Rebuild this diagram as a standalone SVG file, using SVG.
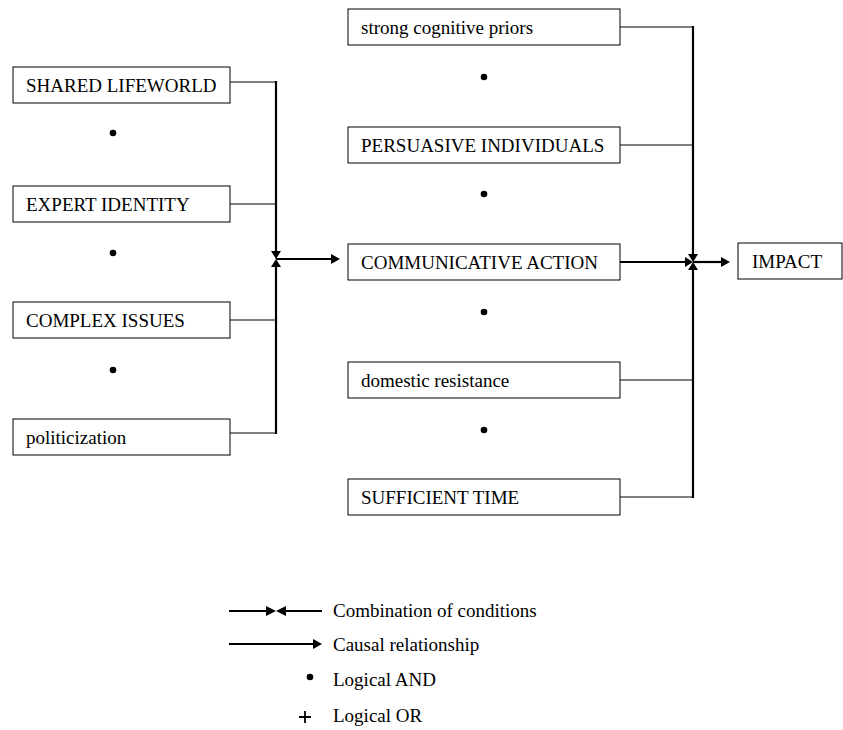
<svg xmlns="http://www.w3.org/2000/svg" width="843" height="730" viewBox="0 0 843 730">
<style>
.box{fill:#fff;stroke:#000;stroke-width:1}
text{font-family:"Liberation Serif","Times New Roman",serif;font-size:19px;fill:#000}
.thin{stroke:#000;stroke-width:1;fill:none}
.thick{stroke:#000;stroke-width:2.2;fill:none}
.head{fill:#000}
</style>
<rect width="843" height="730" fill="#fff"/>
<g id="n-shared"><rect class="box" x="13" y="67" width="217" height="36"/><text x="26" y="92">SHARED LIFEWORLD</text></g>
<g id="n-expert"><rect class="box" x="13" y="186" width="217" height="36"/><text x="26" y="211">EXPERT IDENTITY</text></g>
<g id="n-complex"><rect class="box" x="13" y="302" width="217" height="36"/><text x="26" y="327">COMPLEX ISSUES</text></g>
<g id="n-polit"><rect class="box" x="13" y="419" width="217" height="36"/><text x="26" y="444">politicization</text></g>
<g id="n-priors"><rect class="box" x="348" y="9" width="272" height="36"/><text x="361" y="34">strong cognitive priors</text></g>
<g id="n-persuasive"><rect class="box" x="348" y="127" width="272" height="36"/><text x="361" y="152">PERSUASIVE INDIVIDUALS</text></g>
<g id="n-comm"><rect class="box" x="348" y="244" width="272" height="36"/><text x="361" y="269">COMMUNICATIVE ACTION</text></g>
<g id="n-domestic"><rect class="box" x="348" y="362" width="272" height="36"/><text x="361" y="387">domestic resistance</text></g>
<g id="n-time"><rect class="box" x="348" y="479" width="272" height="36"/><text x="361" y="504">SUFFICIENT TIME</text></g>
<g id="n-impact"><rect class="box" x="738" y="243" width="104" height="36"/><text x="752" y="268">IMPACT</text></g>
<g id="and-dots">
<circle cx="113" cy="133" r="3.3"/><circle cx="113" cy="253" r="3.3"/><circle cx="113" cy="370" r="3.3"/>
<circle cx="484" cy="77" r="3.3"/><circle cx="484" cy="194" r="3.3"/><circle cx="484" cy="312" r="3.3"/><circle cx="484" cy="430" r="3.3"/>
</g>
<g id="connectors">
<path class="thin" d="M230 82H276M230 204H276M230 320H276M230 433H276"/>
<path class="thick" d="M276 81V251M276 267V434"/>
<path class="head" d="M271 251L281 251L276 259ZM271 267L281 267L276 259Z"/>
<path class="thick" d="M276 259H332"/>
<path class="head" d="M331 254L340 259L331 264Z"/>
<path class="thin" d="M620 27H693M620 145H693M620 380H693M620 497H693"/>
<path class="thick" d="M693 26V254M693 270V498"/>
<path class="head" d="M688 254L698 254L693 262ZM688 270L698 270L693 262Z"/>
<path class="thick" d="M620 262H685"/>
<path class="head" d="M685 257L693 262L685 267Z"/>
<path class="thick" d="M693 262H722"/>
<path class="head" d="M721 257L730 262L721 267Z"/>
</g>
<g id="legend">
<path class="thick" d="M229 611H266M286 611H322"/>
<path class="head" d="M266 606L276 611L266 616ZM286 606L276 611L286 616Z"/>
<text x="333" y="617">Combination of conditions</text>
<path class="thick" d="M229 644H314"/>
<path class="head" d="M313 639L322 644L313 649Z"/>
<text x="333" y="651">Causal relationship</text>
<circle cx="310" cy="677" r="3.3"/>
<text x="333" y="686">Logical AND</text>
<path class="thick" d="M299 717H311M305 711V723" style="stroke-width:1.8"/>
<text x="333" y="722">Logical OR</text>
</g>
</svg>
